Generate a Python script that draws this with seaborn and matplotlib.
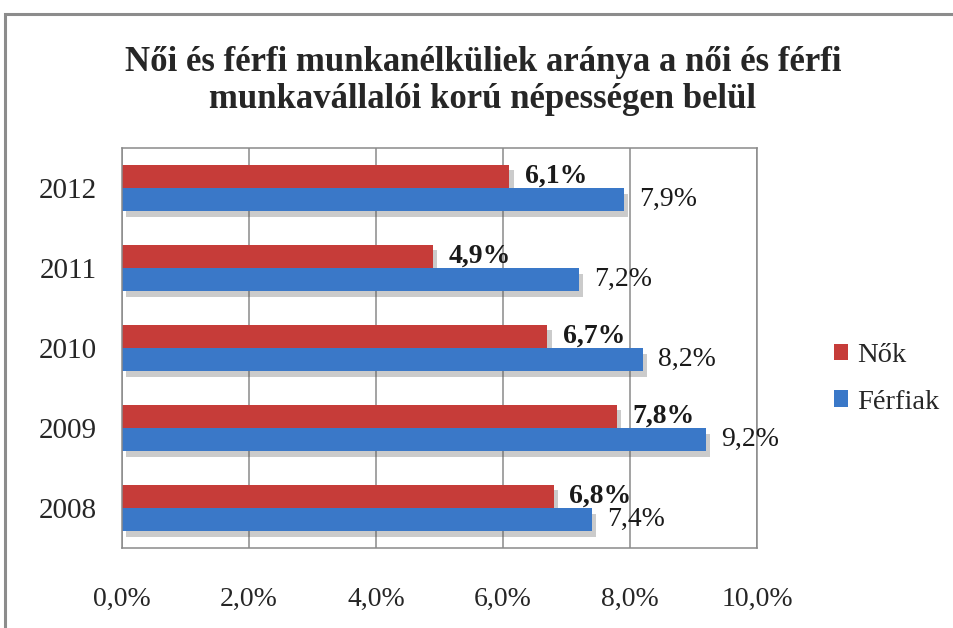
import matplotlib
matplotlib.use("Agg")
import matplotlib.pyplot as plt
import matplotlib.patheffects as pe
from matplotlib.patches import Rectangle
import pandas as pd
import seaborn as sns

years = ["2012", "2011", "2010", "2009", "2008"]
nok = [6.1, 4.9, 6.7, 7.8, 6.8]
ferfiak = [7.9, 7.2, 8.2, 9.2, 7.4]
series = ["Nők", "Férfiak"]
x_ticks = [0, 2, 4, 6, 8, 10]
x_tick_labels = ["0,0%", "2,0%", "4,0%", "6,0%", "8,0%", "10,0%"]
title = "Női és férfi munkanélküliek aránya a női és férfi\nmunkavállalói korú népességen belül"

df = pd.DataFrame({
    "year": years * 2,
    "value": nok + ferfiak,
    "sex": [series[0]] * len(years) + [series[1]] * len(years),
})

sns.set_style("white")
plt.rcParams["font.family"] = ["Liberation Serif", "DejaVu Serif"]

red = "#c63c39"
blue = "#3a78c8"

fig = plt.figure(figsize=(9.54, 6.28), dpi=100)
fig.patch.set_facecolor("white")

# outer chart frame (cut off at right and bottom like the screenshot)
fig.patches.append(Rectangle((5 / 954, -0.1), 1.2, 1 - 14 / 628 + 0.1,
                             transform=fig.transFigure, fill=False,
                             edgecolor="#8c8c8c", linewidth=2.2))

ax = fig.add_axes([122 / 954, 1 - 548 / 628, 635 / 954, 400 / 628])
sns.barplot(data=df, x="value", y="year", hue="sex", hue_order=series,
            order=years, palette=[red, blue], width=0.58, orient="h",
            saturation=1, linewidth=0, ax=ax, legend=True)

shadow = [pe.SimplePatchShadow(offset=(3, -4), alpha=0.3, shadow_rgbFace="#555555"), pe.Normal()]
for cont in ax.containers:
    for bar in cont:
        bar.set_edgecolor("none")
        bar.set_path_effects(shadow)

for cont, vals, weight in zip(ax.containers, [nok, ferfiak], ["bold", "normal"]):
    ax.bar_label(cont, labels=[f"{v:.1f}%".replace(".", ",") for v in vals],
                 padding=11, fontsize=20, fontweight=weight, color="#1a1a1a")

ax.set_xlim(0, 10)
ax.set_xticks(x_ticks)
ax.set_xticklabels(x_tick_labels)
ax.tick_params(axis="x", length=0, pad=28, labelsize=20)
ax.tick_params(axis="y", length=0, pad=18, labelsize=21)
ax.set_xlabel("")
ax.set_ylabel("")
ax.grid(axis="x", color="#8a8a8a", linewidth=1.1)
ax.set_axisbelow(True)
for s in ax.spines.values():
    s.set_visible(True)
    s.set_color("#8a8a8a")
    s.set_linewidth(1.1)

handles, labels = ax.get_legend_handles_labels()
ax.get_legend().remove()
fig.legend(handles, labels, loc="center left",
           bbox_to_anchor=(820 / 954, 1 - 379 / 628), frameon=False,
           fontsize=20.5, handlelength=0.5, handleheight=0.5,
           handletextpad=0.3, labelspacing=0.75, borderpad=0)

fig.text(483 / 954, 1 - 81 / 628, title, ha="center", va="center",
         fontsize=25, fontweight="bold", linespacing=1.15)

fig.savefig("out.png", dpi=100)
